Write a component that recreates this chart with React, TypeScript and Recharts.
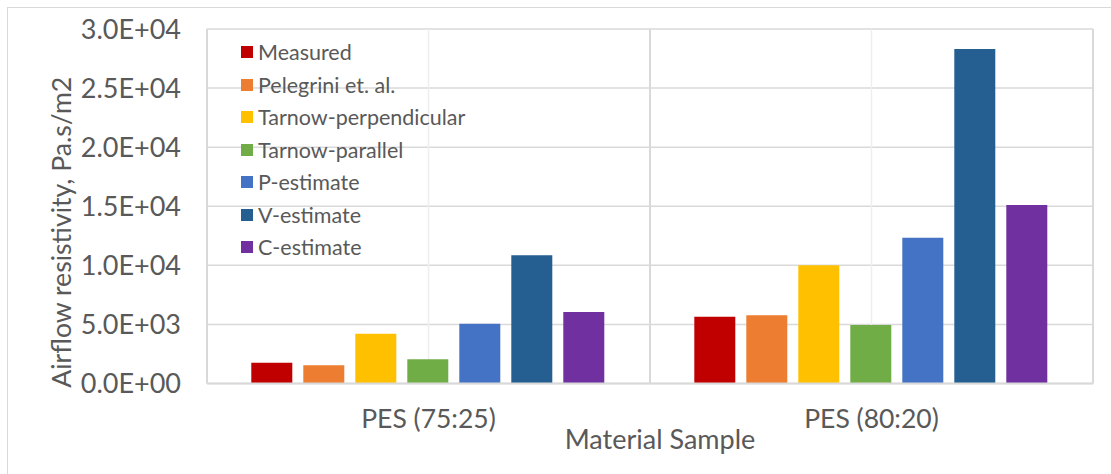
import React from 'react';
import { BarChart, Bar, XAxis, YAxis, CartesianGrid } from 'recharts';

// samples on the x axis
const categories = ['PES (75:25)', 'PES (80:20)'];

// airflow resistivity, Pa.s/m2
const measured = [1750, 5650];
const pelegrini = [1550, 5770];
const tarnowPerpendicular = [4200, 10000];
const tarnowParallel = [2050, 4950];
const pEstimate = [5050, 12340];
const vEstimate = [10850, 28300];
const cEstimate = [6050, 15100];

const yTicks = [0, 5000, 10000, 15000, 20000, 25000, 30000];

const series = [
  { key: 'measured', label: 'Measured', color: '#C00000', values: measured },
  { key: 'pelegrini', label: 'Pelegrini et. al.', color: '#ED7D31', values: pelegrini },
  { key: 'tarnowPerp', label: 'Tarnow-perpendicular', color: '#FFC000', values: tarnowPerpendicular },
  { key: 'tarnowPar', label: 'Tarnow-parallel', color: '#70AD47', values: tarnowParallel },
  { key: 'pEst', label: 'P-estimate', color: '#4472C4', values: pEstimate },
  { key: 'vEst', label: 'V-estimate', color: '#255E91', values: vEstimate },
  { key: 'cEst', label: 'C-estimate', color: '#7030A0', values: cEstimate },
];

const data = categories.map((name, i) => {
  const row: Record<string, string | number> = { name };
  series.forEach((s) => {
    row[s.key] = s.values[i];
  });
  return row;
});

const FONT = 'Lato, "Open Sans", sans-serif';
const TEXT = '#595959';
const GRID = '#d9d9d9';

function sci(v: number) {
  if (v === 0) return '0.0E+00';
  const e = Math.floor(Math.log10(v));
  const m = v / Math.pow(10, e);
  return `${m.toFixed(1)}E+${String(e).padStart(2, '0')}`;
}

// band start + width from the x scale, whatever shape recharts hands over
function bands(xAxis: any): { start: number[]; bw: number } | null {
  try {
    const s = xAxis?.scale;
    if (!s) return null;
    const at = (v: string) =>
      typeof s === 'function' ? s(v) : typeof s.map === 'function' ? s.map(v) : undefined;
    const bw = typeof s.bandwidth === 'function' ? s.bandwidth() : undefined;
    const start = categories.map(at);
    if (bw == null || start.some((p) => typeof p !== 'number' || !isFinite(p))) return null;
    return { start: start as number[], bw };
  } catch (e) {
    return null;
  }
}

// lines on the category boundaries (plot edges + between samples)
function boundaryLines({ xAxis, offset }: any) {
  const b = bands(xAxis);
  if (b) return [...b.start, b.start[b.start.length - 1] + b.bw];
  return [offset.left, offset.left + offset.width / 2, offset.left + offset.width];
}

// faint lines through the middle of each sample
function centerLines({ xAxis, offset }: any) {
  const b = bands(xAxis);
  if (b) return b.start.map((p) => p + b.bw / 2);
  return [offset.left + offset.width / 4, offset.left + (offset.width * 3) / 4];
}

// legend sits inside the plot, over the gridlines (no background)
function LegendBox() {
  return (
    <div
      style={{
        position: 'absolute',
        left: 233,
        top: 28,
        fontFamily: FONT,
        fontSize: 21.5,
        color: TEXT,
        pointerEvents: 'none',
      }}
    >
      {series.map((s) => (
        <div key={s.key} style={{ display: 'flex', alignItems: 'center', height: 32.5, whiteSpace: 'nowrap' }}>
          <span style={{ width: 12, height: 12, background: s.color, marginRight: 5, display: 'inline-block' }} />
          <span>{s.label}</span>
        </div>
      ))}
    </div>
  );
}

function YTitle({ viewBox }: any) {
  const x = viewBox.x + 53;
  const y = viewBox.y + viewBox.height / 2 + 26;
  return (
    <text
      x={x}
      y={y}
      transform={`rotate(-90 ${x} ${y})`}
      textAnchor="middle"
      dominantBaseline="central"
      fill={TEXT}
      fontSize={26.6}
      fontFamily={FONT}
    >
      Airflow resistivity, Pa.s/m2
    </text>
  );
}

export default function App() {
  return (
    <div
      style={{
        position: 'absolute',
        left: 7,
        top: 7,
        width: 1110,
        height: 470,
        borderLeft: `1px solid ${GRID}`,
        borderTop: `1px solid ${GRID}`,
        background: '#fff',
      }}
    >
      <div style={{ position: 'relative', width: 1103, height: 466 }}>
        <BarChart
          width={1103}
          height={466}
          data={data}
          margin={{ top: 21, right: 18, left: 0, bottom: 0 }}
          barCategoryGap="10%"
          barGap={11}
        >
          <CartesianGrid vertical={false} stroke={GRID} strokeWidth={1.5} />
          <CartesianGrid horizontal={false} stroke="#eeeeee" strokeWidth={1.5} verticalCoordinatesGenerator={centerLines} />
          <CartesianGrid horizontal={false} stroke={GRID} strokeWidth={2} verticalCoordinatesGenerator={boundaryLines} />
          <XAxis
            dataKey="name"
            height={90.5}
            tickSize={0}
            tickMargin={25.5}
            axisLine={{ stroke: GRID, strokeWidth: 2 }}
            tick={{ fill: TEXT, fontSize: 26.5, fontFamily: FONT }}
            label={{
              value: 'Material Sample',
              position: 'insideBottom',
              offset: 25,
              dx: 10,
              fill: TEXT,
              fontSize: 27,
              fontFamily: FONT,
            }}
          />
          <YAxis
            width={199}
            domain={[0, 30000]}
            ticks={yTicks}
            tickFormatter={sci}
            tickSize={0}
            tickMargin={26}
            axisLine={false}
            tick={{ fill: TEXT, fontSize: 27, fontFamily: FONT }}
            label={{ content: YTitle }}
          />
          {series.map((s) => (
            <Bar key={s.key} dataKey={s.key} name={s.label} fill={s.color} isAnimationActive={false} />
          ))}
        </BarChart>
        <LegendBox />
      </div>
    </div>
  );
}
